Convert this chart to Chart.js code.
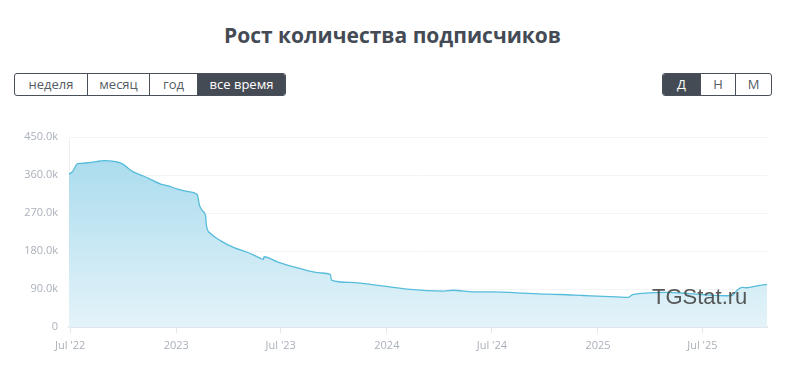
<!DOCTYPE html>
<html>
<head>
<meta charset="utf-8">
<script src="https://cdn.jsdelivr.net/npm/chart.js@4.4.1/dist/chart.umd.min.js"></script>
<style>
  html,body{margin:0;padding:0;background:#fff;}
  body{width:785px;height:377px;position:relative;overflow:hidden;font-family:"Open Sans",sans-serif;}
  #title{position:absolute;left:0;top:18px;width:785px;text-align:center;font-weight:700;font-size:21px;color:#454b55;line-height:34px;}
  .grp{position:absolute;top:73px;height:23px;display:flex;border:1px solid #4a505a;border-radius:3px;box-sizing:border-box;overflow:hidden;}
  .grp div{box-sizing:border-box;height:21px;line-height:21px;text-align:center;font-size:13px;color:#555b64;border-left:1px solid #4a505a;}
  .grp div:first-child{border-left:none;}
  .grp div.on{background:#454b55;color:#fff;}
  #wm{position:absolute;left:652px;top:286px;font-family:"Liberation Sans",Arial,sans-serif;font-size:22px;line-height:22px;color:rgba(70,70,70,0.9);pointer-events:none;}
  canvas{position:absolute;left:0;top:0;}
</style>
</head>
<body>
<div id="title">Рост количества подписчиков</div>
<div class="grp" style="left:14px;width:272px;">
  <div style="width:72px">неделя</div><div style="width:62px">месяц</div><div style="width:48px">год</div><div class="on" style="width:88px">все время</div>
</div>
<div class="grp" style="left:662px;width:110px;">
  <div class="on" style="width:37px">Д</div><div style="width:35px">Н</div><div style="width:36px">М</div>
</div>
<canvas id="c" width="785" height="377"></canvas>
<div id="wm">TGStat.ru</div>
<script>
const dates = ['2022-06-29','2022-07-05','2022-07-14','2022-07-20','2022-08-05','2022-08-15','2022-08-28','2022-09-18','2022-09-29','2022-10-17','2022-11-06','2022-12-05','2022-12-18','2023-01-03','2023-01-20','2023-02-05','2023-02-07','2023-02-10','2023-02-17','2023-02-21','2023-02-22','2023-03-01','2023-03-19','2023-04-11','2023-05-04','2023-05-27','2023-06-01','2023-06-02','2023-06-25','2023-07-30','2023-09-08','2023-09-25','2023-09-27','2023-10-30','2023-12-27','2024-02-05','2024-04-09','2024-04-25','2024-05-31','2024-07-04','2024-08-14','2024-10-05','2024-10-28','2024-12-07','2025-02-03','2025-02-23','2025-03-01','2025-03-18','2025-04-28','2025-06-10','2025-06-30','2025-08-13','2025-08-22','2025-08-30','2025-09-08','2025-09-16','2025-10-04','2025-10-21'];
const subscribers = [362000,368000,387000,387500,390000,391500,394000,391500,387000,368500,357000,338500,334000,326600,321000,315000,311000,289000,273000,261500,242000,222000,204000,188000,177000,162600,160000,166400,154500,140000,128000,124600,111000,105500,96700,89600,85000,87000,83200,83200,80800,77700,77000,74600,71300,70400,76000,79400,82000,79000,77000,74000,75000,87000,93700,93000,97500,100800];
const tickDates = ['2022-07-01','2023-01-01','2023-07-01','2024-01-01','2024-07-01','2025-01-01','2025-07-01'];
const tickLabels = ["Jul '22","2023","Jul '23","2024","Jul '24","2025","Jul '25"];
const yTicks = [0,90000,180000,270000,360000,450000];

const toMs = s => { const p = s.split('-').map(Number); return Date.UTC(p[0], p[1]-1, p[2]); };
const points = dates.map((d,i)=>({x: toMs(d), y: subscribers[i]}));
const tickMs = tickDates.map(toMs);

new Chart(document.getElementById('c'), {
  type: 'line',
  data: { datasets: [{
    data: points,
    borderColor: '#55bcdb',
    borderWidth: 1.3,
    pointRadius: 0,
    cubicInterpolationMode: 'monotone',
    fill: 'origin',
    backgroundColor: (ctx) => {
      const ca = ctx.chart.chartArea;
      if (!ca) return 'rgba(166,219,237,0.8)';
      const g = ctx.chart.ctx.createLinearGradient(0, ca.top, 0, ca.bottom);
      g.addColorStop(0, '#a3d9ec');
      g.addColorStop(1, '#e4f3f9');
      return g;
    }
  }]},
  options: {
    responsive: false,
    animation: false,
    devicePixelRatio: 1,
    layout: { padding: { top: 137, right: 18, bottom: 0, left: 0 } },
    plugins: { legend: { display: false }, tooltip: { enabled: false } },
    scales: {
      x: {
        type: 'linear',
        min: toMs(dates[0]),
        max: toMs(dates[dates.length-1]),
        afterBuildTicks: (s) => { s.ticks = tickMs.map(v => ({value: v})); },
        afterFit: (s) => { s.height = 50; },
        grid: { drawOnChartArea: false, drawTicks: true, tickLength: 6, color: '#e3e6eb' },
        border: { display: true, color: '#e3e6eb', width: 2 },
        ticks: {
          autoSkip: false, maxRotation: 0, padding: 6,
          color: '#aab0ba', font: { family: 'Open Sans', size: 11 },
          callback: (v) => { const i = tickMs.indexOf(v); return i >= 0 ? tickLabels[i] : ''; }
        }
      },
      y: {
        min: 0, max: 450000,
        afterBuildTicks: (s) => { s.ticks = yTicks.map(v => ({value: v})); },
        afterFit: (s) => { s.width = 69; },
        grid: { drawTicks: false, color: '#f3f4f6' },
        border: { display: true, color: '#eef0f3' },
        ticks: {
          padding: 11, color: '#aab0ba', font: { family: 'Open Sans', size: 11 },
          callback: (v) => v === 0 ? '0' : (v/1000).toFixed(1) + 'k'
        }
      }
    }
  }
});
</script>
</body>
</html>
